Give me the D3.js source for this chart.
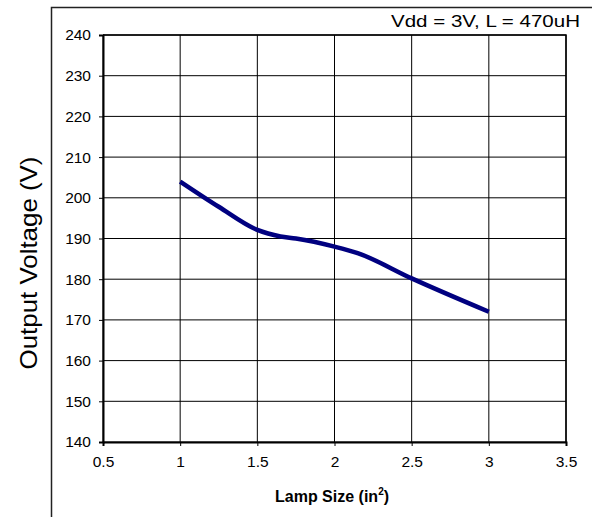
<!DOCTYPE html>
<html>
<head>
<meta charset="utf-8">
<script src="https://cdn.jsdelivr.net/npm/d3@7"></script>
<style>
	body { margin: 0; background: #fff; }
	svg { display: block; font-family: Arial, "Liberation Sans", sans-serif; }
</style>
</head>
<body>
<svg id="chart" width="592" height="517"></svg>
<script>
// lamp size (in^2) vs output voltage (V)
var lampSize = [1, 1.25, 1.5, 1.65, 1.75, 2, 2.15, 2.5, 3];
var outVolt = [204, 197.8, 192.1, 190.5, 190, 188, 186.4, 180.2, 172];
var xTicks = [0.5, 1, 1.5, 2, 2.5, 3, 3.5];
var yTicks = [140, 150, 160, 170, 180, 190, 200, 210, 220, 230, 240];
var note = 'Vdd = 3V, L = 470uH';

var svg = d3.select('#chart');
var pL = 103, pR = 566, pT = 35, pB = 442;

var x = d3.scaleLinear().domain([0.5, 3.5]).range([pL, pR]);
var y = d3.scaleLinear().domain([140, 240]).range([pB, pT]);

// outer frame (clipped by the page)
svg.append('path')
	.attr('d', 'M51.5,517 V7.5 H592')
	.attr('fill', 'none')
	.attr('stroke', '#222')
	.attr('stroke-width', 1.5);

// grid
var grid = svg.append('g');
grid.selectAll('.hg').data(yTicks).enter().append('line')
	.attr('x1', pL).attr('x2', pR)
	.attr('y1', function (d) { return y(d); })
	.attr('y2', function (d) { return y(d); })
	.attr('stroke', '#000').attr('stroke-width', 1);
grid.selectAll('.vg').data(xTicks).enter().append('line')
	.attr('y1', pT).attr('y2', pB)
	.attr('x1', function (d) { return x(d); })
	.attr('x2', function (d) { return x(d); })
	.attr('stroke', '#000').attr('stroke-width', 1);

// axes
var xAxis = svg.append('g')
	.attr('transform', 'translate(0,' + pB + ')')
	.call(d3.axisBottom(x).tickValues(xTicks).tickSize(4).tickPadding(10).tickFormat(d3.format('')));
var yAxis = svg.append('g')
	.attr('transform', 'translate(' + pL + ',0)')
	.call(d3.axisLeft(y).tickValues(yTicks).tickSize(4).tickPadding(8));
[xAxis, yAxis].forEach(function (a) {
	a.attr('font-size', 15.5).attr('font-family', 'Arial, "Liberation Sans", sans-serif');
	a.select('.domain').attr('stroke', '#000').attr('stroke-width', 2);
	a.selectAll('.tick line').attr('stroke', '#000');
	a.selectAll('.tick text').attr('fill', '#000');
});

// plot border top/right
svg.append('path')
	.attr('d', 'M' + pL + ',' + pT + ' H' + pR + ' V' + pB)
	.attr('fill', 'none')
	.attr('stroke', '#000')
	.attr('stroke-width', 1.5);

// data line
var line = d3.line()
	.x(function (d) { return x(d[0]); })
	.y(function (d) { return y(d[1]); })
	.curve(d3.curveMonotoneX);
svg.append('path')
	.datum(d3.zip(lampSize, outVolt))
	.attr('d', line)
	.attr('fill', 'none')
	.attr('stroke', '#000080')
	.attr('stroke-width', 4.5);

// labels
svg.append('text')
	.attr('transform', 'translate(37,263) rotate(-90)')
	.attr('text-anchor', 'middle')
	.style('font-size', '24px')
	.attr('textLength', 213)
	.attr('lengthAdjust', 'spacingAndGlyphs')
	.text('Output Voltage (V)');

var xl = svg.append('text')
	.attr('x', 275).attr('y', 502)
	.style('font-size', '16px')
	.style('font-weight', 'bold');
xl.append('tspan').text('Lamp Size (in');
xl.append('tspan').attr('dy', -7).style('font-size', '10px').text('2');
xl.append('tspan').attr('dy', 7).text(')');

svg.append('text')
	.attr('x', 391).attr('y', 27)
	.style('font-size', '17px')
	.attr('textLength', 189)
	.attr('lengthAdjust', 'spacingAndGlyphs')
	.text(note);
</script>
</body>
</html>
